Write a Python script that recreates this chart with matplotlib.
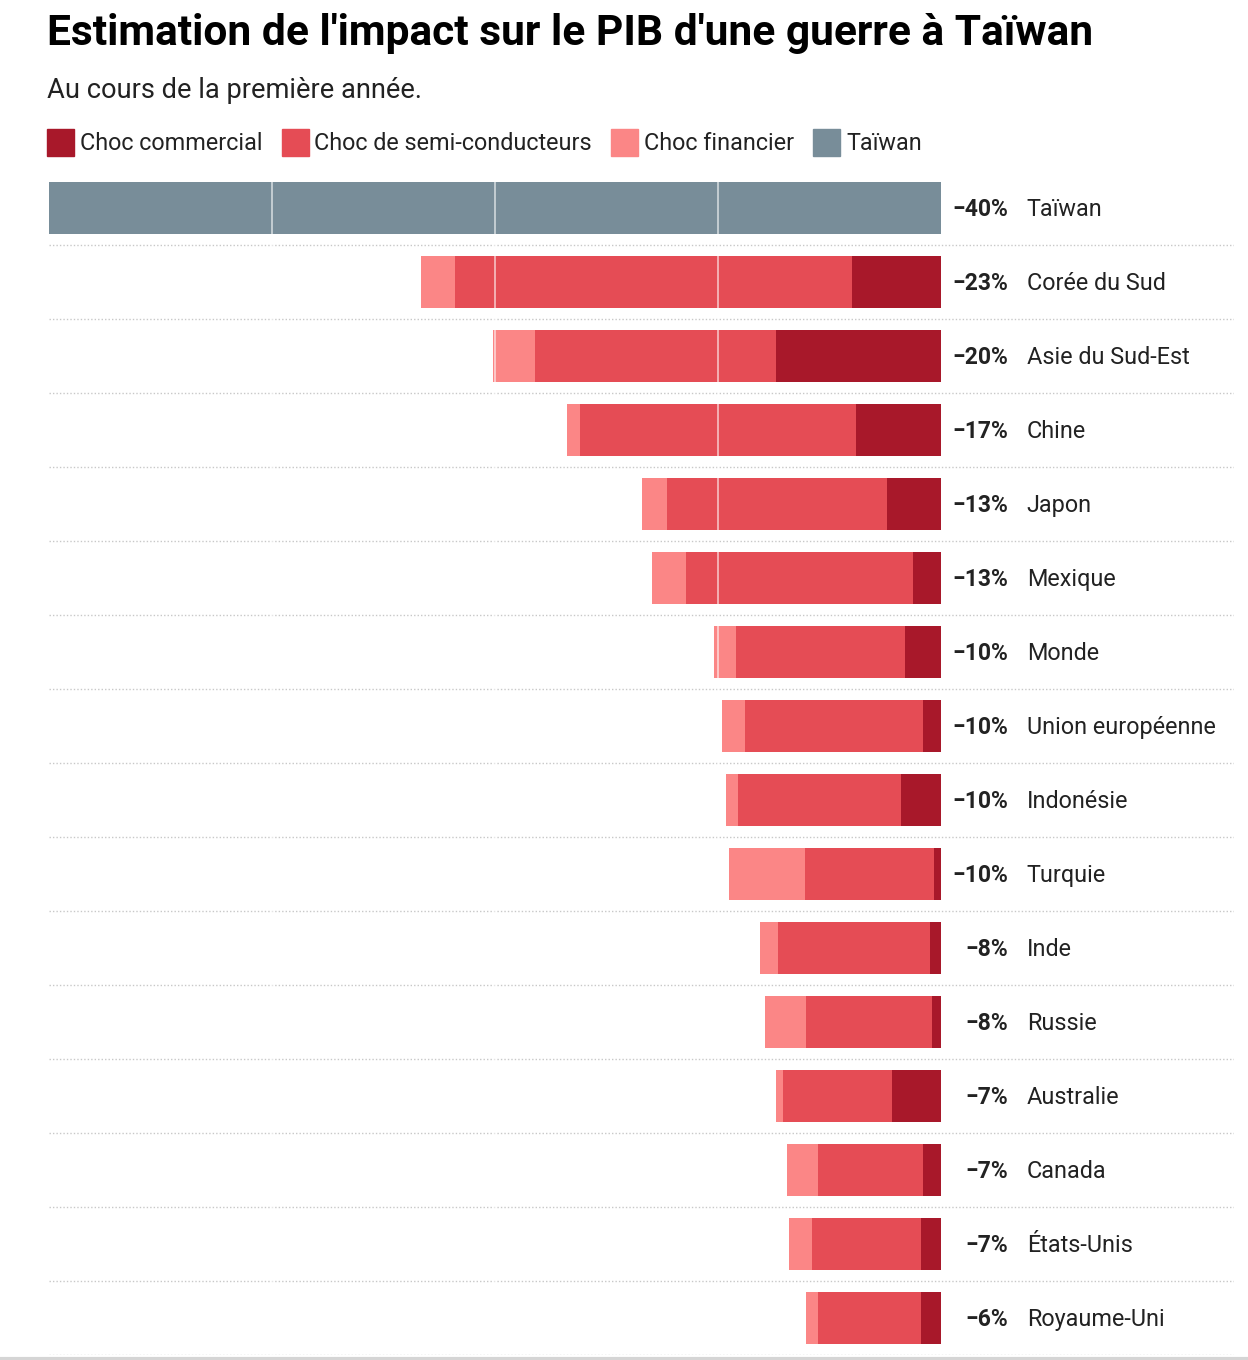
import matplotlib.pyplot as plt
from matplotlib.patches import Rectangle
from matplotlib.lines import Line2D

plt.rcParams["font.family"] = ["Roboto", "DejaVu Sans"]

pays = ["Taïwan", "Corée du Sud", "Asie du Sud-Est", "Chine", "Japon", "Mexique",
        "Monde", "Union européenne", "Indonésie", "Turquie", "Inde", "Russie",
        "Australie", "Canada", "États-Unis", "Royaume-Uni"]
choc_commercial = [0, 4.0, 7.4, 3.8, 2.4, 1.25, 1.6, 0.8, 1.8, 0.3, 0.5, 0.4, 2.2, 0.8, 0.9, 0.9]
choc_semi = [0, 17.8, 10.8, 12.4, 9.9, 10.2, 7.6, 8.0, 7.3, 5.8, 6.8, 5.65, 4.9, 4.7, 4.9, 4.6]
choc_financier = [0, 1.5, 1.9, 0.55, 1.1, 1.5, 1.0, 1.0, 0.55, 3.4, 0.8, 1.85, 0.3, 1.4, 1.0, 0.55]
taiwan = [40, 0, 0, 0, 0, 0, 0, 0, 0, 0, 0, 0, 0, 0, 0, 0]
totaux = [-40, -23, -20, -17, -13, -13, -10, -10, -10, -10, -8, -8, -7, -7, -7, -6]

COULEURS = {
    "Choc commercial": "#a8182a",
    "Choc de semi-conducteurs": "#e54c55",
    "Choc financier": "#fb8686",
    "Taïwan": "#788d99",
}
TEXTE = "#222222"
W, H = 1248, 1360


def main():
    fig = plt.figure(figsize=(W / 100, H / 100), dpi=100)
    ax = fig.add_axes([49 / W, 1 - 1355 / H, (1234 - 49) / W, (1355 - 171) / H])

    y = list(range(len(pays)))
    h = 0.70
    # empilement vers la gauche depuis zéro
    gauche_com = [-c for c in choc_commercial]
    ax.barh(y, gauche_com, height=h, color=COULEURS["Choc commercial"], zorder=2)
    gauche_semi = [g - s for g, s in zip(gauche_com, choc_semi)]
    ax.barh(y, [-s for s in choc_semi], left=gauche_com, height=h,
            color=COULEURS["Choc de semi-conducteurs"], zorder=2)
    ax.barh(y, [-f for f in choc_financier], left=gauche_semi, height=h,
            color=COULEURS["Choc financier"], zorder=2)
    ax.barh(y, [-t for t in taiwan], height=h, color=COULEURS["Taïwan"], zorder=2)

    for gx in (-30, -20, -10):
        ax.axvline(gx, color="white", linewidth=1.3, alpha=0.6, zorder=3)

    for i in y:
        ax.axhline(i + 0.5, color="#c8c8c8", linewidth=1.0, linestyle=(0, (1, 1.5)), zorder=1)

    for i, (nom, tot) in enumerate(zip(pays, totaux)):
        ax.text(3.0, i + 0.02, f"−{abs(tot)}%", ha="right", va="center", fontsize=16.5,
                fontweight="bold", color=TEXTE)
        ax.text(3.85, i + 0.02, nom, ha="left", va="center", fontsize=16.8, color=TEXTE)

    ax.set_xlim(-40, (1234 - 941) / 22.3)
    ax.set_ylim(len(pays) - 0.5, -0.5)
    ax.axis("off")

    fig.text(47 / W, 1 - 45 / H, "Estimation de l'impact sur le PIB d'une guerre à Taïwan",
             fontsize=30.6, fontweight="bold", color="black", va="baseline")
    fig.text(47 / W, 1 - 98 / H, "Au cours de la première année.",
             fontsize=19.6, color=TEXTE, va="baseline")

    # légende manuelle
    fig.canvas.draw()
    rend = fig.canvas.get_renderer()
    x = 47
    for nom, coul in COULEURS.items():
        fig.patches.append(Rectangle((x / W, 1 - 156 / H), 27 / W, 27 / H,
                                     transform=fig.transFigure, color=coul))
        t = fig.text((x + 33) / W, 1 - 150 / H, nom, fontsize=16.8, color=TEXTE, va="baseline")
        largeur = t.get_window_extent(renderer=rend).width
        x = x + 33 + largeur + 19

    fig.lines.append(Line2D([0, 1], [1.5 / H, 1.5 / H], transform=fig.transFigure,
                            color="#d5d5d5", linewidth=3))

    fig.savefig("out.png", dpi=100)


if __name__ == "__main__":
    main()
